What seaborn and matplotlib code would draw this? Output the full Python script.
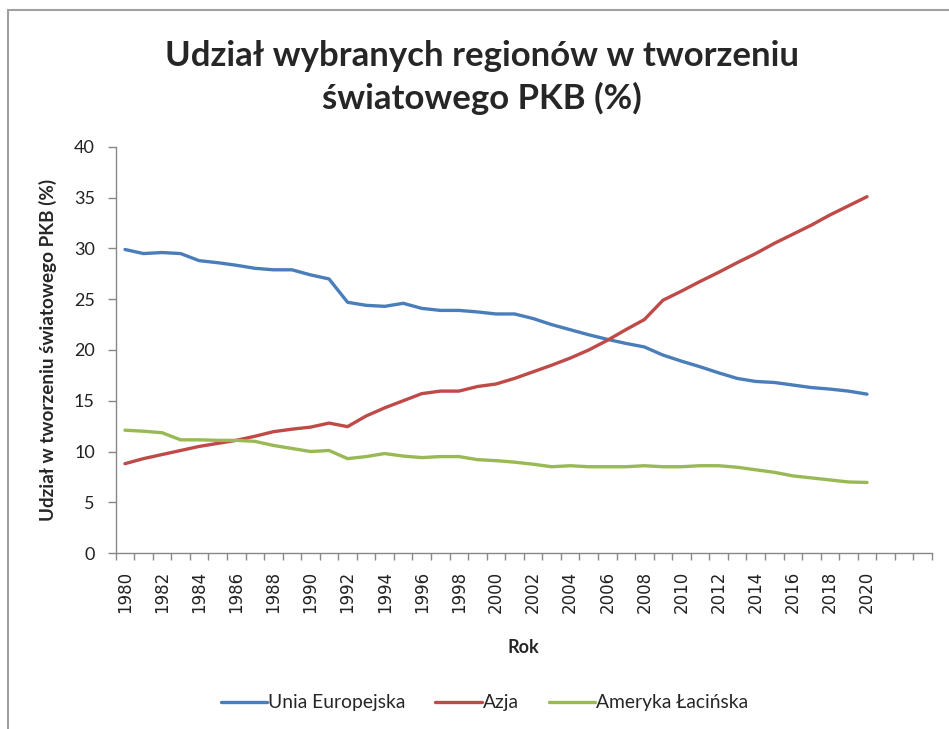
import matplotlib

matplotlib.use("Agg")
import matplotlib.pyplot as plt
import numpy as np
import pandas as pd
import seaborn as sns
from matplotlib.patches import Rectangle

years = list(range(1980, 2021))
unia_europejska = [29.9, 29.5, 29.6, 29.5, 28.8, 28.6, 28.35, 28.05, 27.9, 27.9, 27.4, 27.0,
                   24.7, 24.4, 24.3, 24.6, 24.1, 23.9, 23.9, 23.75, 23.55, 23.55,
                   23.1, 22.5, 22.0, 21.5, 21.05, 20.65, 20.3, 19.5, 18.9, 18.35,
                   17.75, 17.2, 16.9, 16.8, 16.55, 16.3, 16.15, 15.95, 15.65]
azja = [8.8, 9.3, 9.7, 10.1, 10.5, 10.8, 11.1, 11.5, 11.95, 12.2, 12.4, 12.8,
        12.45, 13.5, 14.3, 15.0, 15.7, 15.95, 15.95, 16.4, 16.65, 17.2,
        17.85, 18.5, 19.2, 20.0, 20.95, 22.0, 23.0, 24.9, 25.8, 26.75,
        27.65, 28.6, 29.5, 30.5, 31.4, 32.3, 33.3, 34.2, 35.1]
ameryka_lacinska = [12.1, 12.0, 11.85, 11.15, 11.15, 11.1, 11.1, 11.0, 10.6, 10.3, 10.0, 10.1,
                    9.3, 9.5, 9.8, 9.55, 9.4, 9.5, 9.5, 9.2, 9.1, 8.95,
                    8.75, 8.5, 8.6, 8.5, 8.5, 8.5, 8.6, 8.5, 8.5, 8.6,
                    8.6, 8.45, 8.2, 7.95, 7.6, 7.4, 7.2, 7.0, 6.95]
series_names = ["Unia Europejska", "Azja", "Ameryka Łacińska"]
colors = ["#4A7EBB", "#BE4B48", "#98B954"]

df = pd.DataFrame({
    "Rok": years * 3,
    "value": unia_europejska + azja + ameryka_lacinska,
    "region": np.repeat(series_names, len(years)),
})

sns.set_theme(style="white")
plt.rcParams["font.family"] = ["Lato", "DejaVu Sans"]

fig = plt.figure(figsize=(9.49, 7.29), dpi=100)
ax = fig.add_axes([0.1219, 0.2414, 0.8601, 0.557])

sns.lineplot(data=df, x="Rok", y="value", hue="region", hue_order=series_names,
             palette=colors, linewidth=2.4, ax=ax, legend=True)

# axes / ticks
ax.set_xlim(1979.5, 2023.5)
ax.set_ylim(0, 40)
ax.set_yticks(range(0, 41, 5))
ax.set_xticks(range(1980, 2021, 2))
ax.set_xticks(np.arange(1979.5, 2024, 1), minor=True)
ax.tick_params(axis="x", which="major", length=0, pad=13, rotation=90, labelsize=12,
               labelfontfamily="DejaVu Sans", colors="#222222")
ax.tick_params(axis="x", which="minor", length=5, width=1, color="#888888", direction="out")
ax.tick_params(axis="y", length=6, width=1, color="#888888", direction="out", pad=9,
               labelsize=13, labelcolor="#222222")
ax.tick_params(axis="x", which="major", bottom=True)
ax.xaxis.set_tick_params(which="minor", bottom=True)
ax.yaxis.set_tick_params(left=True)

for side in ["top", "right"]:
    ax.spines[side].set_visible(False)
for side in ["left", "bottom"]:
    ax.spines[side].set_color("#888888")
    ax.spines[side].set_linewidth(1)

ax.set_xlabel("Rok", fontsize=13, fontweight="bold", va="center")
ax.xaxis.set_label_coords(0.5, -0.2315)
ax.set_ylabel("Udział w tworzeniu światowego PKB (%)", fontsize=13.6, fontweight="bold",
              va="center")
ax.yaxis.set_label_coords(-0.0825, 0.5)

fig.text(0.508, 0.894, "Udział wybranych regionów w tworzeniu\nświatowego PKB (%)",
         ha="center", va="center", fontsize=25, fontweight="bold", linespacing=1.35)

ax.legend_.remove()
handles, labels = ax.get_legend_handles_labels()
fig.legend(handles, labels, loc="center", bbox_to_anchor=(0.5105, 0.0357), ncol=3,
           frameon=False, fontsize=13.9, handlelength=2.4, handletextpad=0.05,
           columnspacing=1.55)

# chart area border
fig.patches.append(Rectangle((7.5 / 949, -0.1), 1.1, 1.1 - 10.5 / 729, fill=False,
                             edgecolor="#a0a0a0", linewidth=1.5, transform=fig.transFigure))

plt.savefig("out.png", dpi=100)
